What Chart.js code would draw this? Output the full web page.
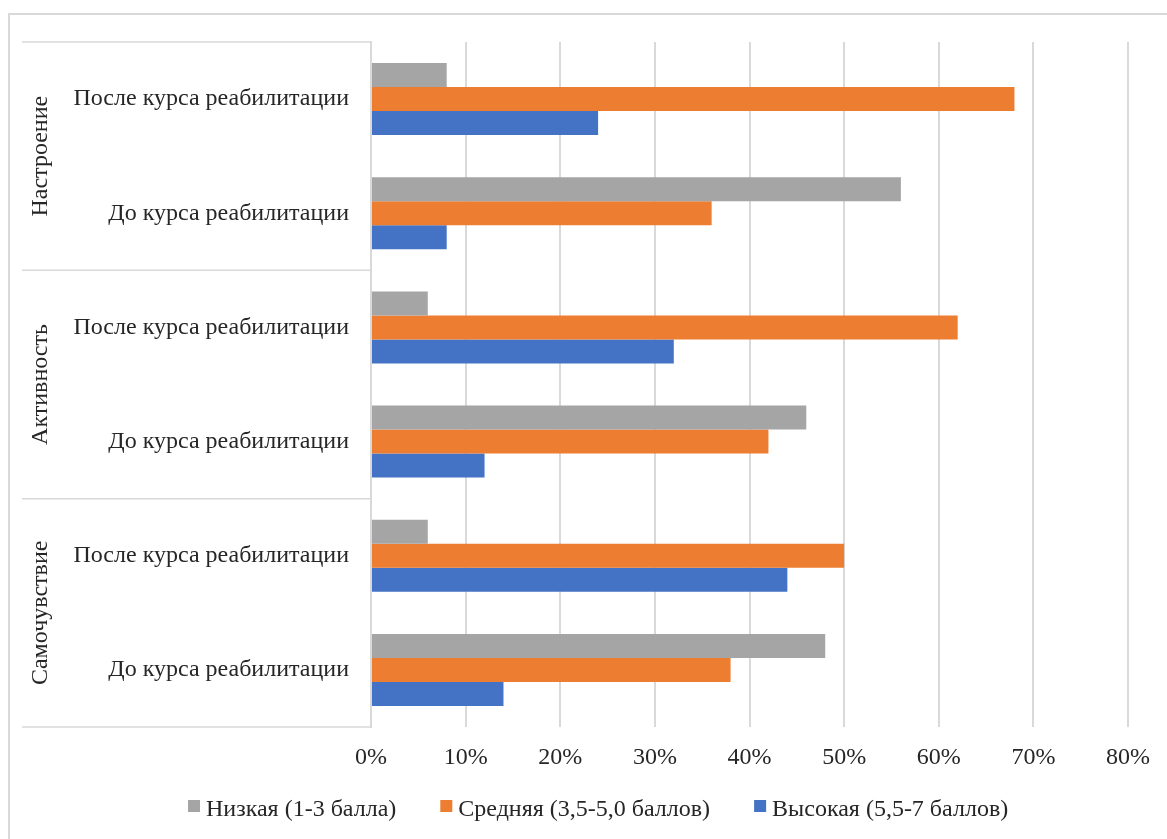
<!DOCTYPE html>
<html>
<head>
<meta charset="utf-8">
<script src="https://cdn.jsdelivr.net/npm/chart.js@4/dist/chart.umd.min.js"></script>
<style>
  html, body { margin: 0; padding: 0; background: #fff; }
  #wrap { width: 1167px; height: 839px; position: relative; }
</style>
</head>
<body>
<div id="wrap"><canvas id="chart"></canvas></div>
<script>
// groups on the outer axis level, stages on the inner one
const groups = ['Настроение', 'Активность', 'Самочувствие'];
const stages = ['После курса реабилитации', 'До курса реабилитации'];

const seriesNames = ['Низкая (1-3 балла)', 'Средняя (3,5-5,0 баллов)', 'Высокая (5,5-7 баллов)'];
const seriesColors = ['#A5A5A5', '#ED7D31', '#4472C4'];

// order: Настроение (после, до), Активность (после, до), Самочувствие (после, до)
const lowValues = [8, 56, 6, 46, 6, 48];
const midValues = [68, 36, 62, 42, 50, 38];
const highValues = [24, 8, 32, 12, 44, 14];

const xTicks = [0, 10, 20, 30, 40, 50, 60, 70, 80];

const FONT = "'Liberation Serif', 'Times New Roman', serif";
const TEXT = '#262626';
const LINE = '#D9D9D9';

const labels = [];
groups.forEach(() => stages.forEach(s => labels.push(s)));

// frame, group labels and separators of the left label box
const groupAxis = {
    id: 'groupAxis',
    beforeDraw(chart) {
        const ctx = chart.ctx;
        ctx.save();
        ctx.strokeStyle = LINE;
        ctx.lineWidth = 2;
        ctx.beginPath();
        ctx.moveTo(9, chart.height + 5);
        ctx.lineTo(9, 14);
        ctx.lineTo(chart.width + 5, 14);
        ctx.stroke();
        ctx.restore();
    },
    afterDraw(chart) {
        const ctx = chart.ctx;
        const y = chart.scales.y;
        const area = chart.chartArea;
        const per = stages.length;
        const bounds = [area.top];
        for (let g = 1; g < groups.length; g++) {
            bounds.push((y.getPixelForValue(g * per - 1) + y.getPixelForValue(g * per)) / 2);
        }
        bounds.push(area.bottom);

        ctx.save();
        ctx.strokeStyle = LINE;
        ctx.lineWidth = 1.5;
        bounds.forEach(b => {
            ctx.beginPath();
            ctx.moveTo(22, b);
            ctx.lineTo(area.left, b);
            ctx.stroke();
        });
        ctx.fillStyle = TEXT;
        ctx.font = '24px ' + FONT;
        ctx.textAlign = 'center';
        ctx.textBaseline = 'middle';
        groups.forEach((g, i) => {
            ctx.save();
            ctx.translate(41, (bounds[i] + bounds[i + 1]) / 2);
            ctx.rotate(-Math.PI / 2);
            ctx.fillText(g, 0, 0);
            ctx.restore();
        });
        ctx.restore();
    }
};

// legend drawn under the axis, Excel style
const bottomLegend = {
    id: 'bottomLegend',
    afterDraw(chart) {
        const ctx = chart.ctx;
        ctx.save();
        ctx.font = '24px ' + FONT;
        ctx.textBaseline = 'middle';
        const box = 12, gap = 6, spacing = 44;
        let x = 188;
        const cy = 810;
        chart.data.datasets.forEach(ds => {
            ctx.fillStyle = ds.backgroundColor;
            ctx.fillRect(x, cy - 4 - box / 2, box, box);
            ctx.fillStyle = TEXT;
            ctx.fillText(ds.label, x + box + gap, cy);
            x += box + gap + ctx.measureText(ds.label).width + spacing;
        });
        ctx.restore();
    }
};

const valueSets = [lowValues, midValues, highValues];

new Chart(document.getElementById('chart'), {
    type: 'bar',
    data: {
        labels: labels,
        datasets: valueSets.map((vals, i) => ({
            label: seriesNames[i],
            data: vals,
            backgroundColor: seriesColors[i],
            borderWidth: 0,
            barPercentage: 1.0,
            categoryPercentage: 0.63
        }))
    },
    options: {
        indexAxis: 'y',
        responsive: true,
        maintainAspectRatio: false,
        animation: false,
        layout: { padding: { top: 42, right: 39, left: 0, bottom: 0 } },
        plugins: {
            legend: { display: false },
            tooltip: { enabled: false }
        },
        scales: {
            x: {
                min: 0,
                max: 80,
                afterFit(scale) { scale.height = 112; },
                afterBuildTicks(scale) { scale.ticks = xTicks.map(v => ({ value: v })); },
                grid: { color: LINE, lineWidth: 2, drawTicks: false },
                border: { display: false },
                ticks: {
                    padding: 16,
                    color: TEXT,
                    font: { family: FONT, size: 24 },
                    callback: v => v + '%'
                }
            },
            y: {
                afterFit(scale) { scale.width = 371; },
                grid: { display: false, drawTicks: false },
                border: { display: true, color: LINE, width: 2 },
                ticks: {
                    padding: 22,
                    autoSkip: false,
                    color: TEXT,
                    font: { family: FONT, size: 24 }
                }
            }
        }
    },
    plugins: [groupAxis, bottomLegend]
});
</script>
</body>
</html>
